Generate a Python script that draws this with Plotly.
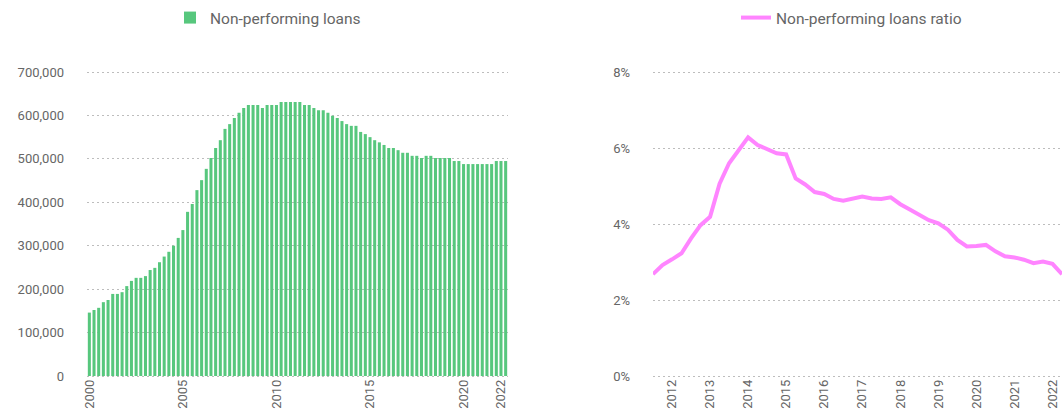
import plotly.graph_objects as go

# ---- Data ----
quarters = [f"{y} Q{q}" for y in range(2000, 2023) for q in range(1, 5)][:90]
npl_values = [
    146000, 152000, 157000, 170000,
    175000, 189000, 189000, 193000,
    207000, 219000, 226000, 226000,
    230000, 244000, 249000, 262000,
    275000, 286000, 300000, 318000,
    336000, 378000, 396000, 428000,
    451000, 477000, 502000, 525000,
    543000, 569000, 580000, 594000,
    606000, 617000, 624000, 624000,
    624000, 617000, 624000, 624000,
    624000, 631000, 631000, 631000,
    631000, 631000, 624000, 624000,
    617000, 612000, 612000, 606000,
    599000, 594000, 587000, 580000,
    576000, 576000, 562000, 557000,
    550000, 543000, 538000, 532000,
    525000, 525000, 520000, 514000,
    514000, 507000, 507000, 502000,
    507000, 507000, 502000, 502000,
    502000, 502000, 495000, 495000,
    488000, 488000, 488000, 488000,
    488000, 488000, 488000, 495000,
    495000, 495000,
]
left_tick_years = ["2000", "2005", "2010", "2015", "2020", "2022"]

ratio_quarters = [f"{y} Q{q}" for y in range(2011, 2023) for q in range(1, 5)][2:46]
npl_ratio = [
    2.68, 2.92, 3.07, 3.23, 3.62, 3.97, 4.19, 5.06, 5.60, 5.93,
    6.28, 6.08, 5.98, 5.86, 5.83, 5.20, 5.04, 4.84, 4.79, 4.66,
    4.61, 4.66, 4.72, 4.67, 4.66, 4.70, 4.52, 4.38, 4.25, 4.10,
    4.02, 3.85, 3.58, 3.41, 3.42, 3.45, 3.28, 3.15, 3.12, 3.06,
    2.97, 3.01, 2.95, 2.68,
]
right_tick_years = [str(y) for y in range(2012, 2023)]

GREEN = "#57C77D"
PINK = "#FF85FF"
TXT = "#666666"
GRID = "#BDBDBD"
FONT = "Roboto"

fig = go.Figure()

fig.add_trace(go.Bar(
    x=quarters, y=npl_values, name="Non-performing loans",
    marker=dict(color=GREEN, line=dict(width=0)),
    xaxis="x", yaxis="y", legend="legend",
))
fig.add_trace(go.Scatter(
    x=ratio_quarters, y=[v / 100 for v in npl_ratio], name="Non-performing loans ratio",
    mode="lines", line=dict(color=PINK, width=4),
    xaxis="x2", yaxis="y2", legend="legend2",
))

W, H = 1064, 414
TOP, BOT = 72, 376        # pixel rows of the top and zero gridlines
PAD = 3                   # extra plot padding so edge gridlines are drawn
PH = BOT - TOP
L_MAX, R_MAX = 700000, 0.08
l_pad = PAD * L_MAX / PH
r_pad = PAD * R_MAX / PH
axis_common = dict(showline=False, zeroline=False,
                   tickfont=dict(family=FONT, size=13, color=TXT))

fig.update_layout(
    width=W, height=H,
    margin=dict(l=0, r=0, t=TOP - PAD, b=H - BOT - PAD, autoexpand=False),
    paper_bgcolor="white", plot_bgcolor="white",
    bargap=0.35,
    showlegend=True,
    hovermode=False,
    font=dict(family=FONT, color=TXT),
    xaxis=dict(
        domain=[87 / W, 508 / W], type="category",
        range=[-0.5, len(quarters) - 0.5],
        tickmode="array",
        tickvals=[f"{y} Q1" for y in left_tick_years],
        ticktext=left_tick_years,
        tickangle=-90, showgrid=False, ticks="", automargin=False,
        ticklabelstandoff=-PAD, anchor="y", **axis_common,
    ),
    yaxis=dict(
        domain=[0, 1], range=[-l_pad, L_MAX + l_pad],
        tickvals=[0, 100000, 200000, 300000, 400000, 500000, 600000, 700000],
        tickformat=",d",
        showgrid=True, gridcolor=GRID, griddash="2px,3px", gridwidth=1,
        ticklabelstandoff=22, automargin=False, anchor="x",
        **axis_common,
    ),
    xaxis2=dict(
        domain=[653 / W, 1062 / W], type="category",
        range=[0, len(ratio_quarters) - 1],
        tickmode="array",
        tickvals=[f"{y} Q1" for y in right_tick_years],
        ticktext=right_tick_years,
        tickangle=-90, showgrid=False, ticks="", automargin=False,
        ticklabelstandoff=-PAD, anchor="y2", **axis_common,
    ),
    yaxis2=dict(
        domain=[0, 1], range=[-r_pad, R_MAX + r_pad],
        tickvals=[0, 0.02, 0.04, 0.06, 0.08],
        tickformat=".0%",
        showgrid=True, gridcolor=GRID, griddash="2px,3px", gridwidth=1,
        ticklabelstandoff=22, automargin=False, anchor="x2",
        **axis_common,
    ),
    legend=dict(
        x=170 / W, y=(BOT + PAD - 18) / (PH + 2 * PAD), xanchor="left", yanchor="middle",
        orientation="h", font=dict(family=FONT, size=15.5, color=TXT),
        bgcolor="rgba(0,0,0,0)",
    ),
    legend2=dict(
        x=736 / W, y=(BOT + PAD - 18) / (PH + 2 * PAD), xanchor="left", yanchor="middle",
        orientation="h", font=dict(family=FONT, size=15.5, color=TXT),
        bgcolor="rgba(0,0,0,0)",
    ),
)

fig.write_html(
    "out.html",
    config={"displayModeBar": False},
    post_script="document.body.style.margin='0';document.body.style.overflow='hidden';",
)
